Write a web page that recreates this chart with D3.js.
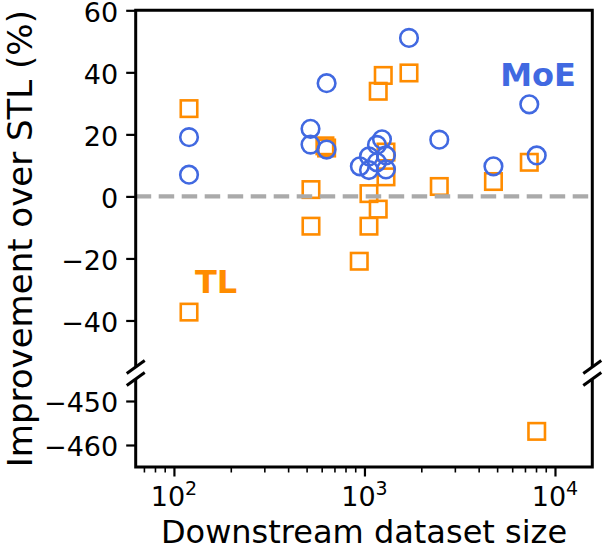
<!DOCTYPE html>
<html>
<head>
<meta charset="utf-8">
<script src="https://cdn.jsdelivr.net/npm/d3@7/dist/d3.min.js"></script>
<style>
  html, body { margin: 0; padding: 0; background: #fff; }
  svg { display: block; font-family: "DejaVu Sans", sans-serif; }
</style>
</head>
<body>
<svg id="chart" width="603" height="553"></svg>
<script>
// ---- Data ----
const moeSize = [120, 120, 521, 521, 633, 633, 1713, 2470, 4753, 7330, 8020,
                 1236, 1163, 1056, 946, 1056, 1297, 1297, 1163];
const moeImprovement = [19.1, 7.0, 21.8, 16.7, 36.5, 15.1, 51.1, 18.3, 9.7, 29.7, 13.2,
                        18.4, 16.6, 12.9, 9.7, 8.5, 13.2, 8.7, 11.0];

const tlSize = [120, 120, 524, 524, 633, 620, 939, 1056, 1056, 1181, 1181, 1255,
                1297, 1297, 1713, 2470, 4753, 7330, 8020];
const tlImprovement = [28.3, -37.3, 2.2, -9.6, 15.6, 16.3, -20.9, 0.9, -9.6, -4.1, 33.9, 39.0,
                       14.3, 6.3, 39.8, 3.2, 4.8, 11.0, -456.9];

const topTicks = [-40, -20, 0, 20, 40, 60];
const bottomTicks = [-460, -450];
const xMajorTicks = [100, 1000, 10000];
const xTickExponents = ["2", "3", "4"];

const xLabel = "Downstream dataset size";
const yLabel = "Improvement over STL (%)";
const moeLabel = "MoE";
const tlLabel = "TL";

// ---- Layout ----
const svg = d3.select("#chart");
const L = 135.7, R = 592.3;
const topY0 = 10.3, topY1 = 367;     // top panel pixel range
const botY0 = 379, botY1 = 467;      // bottom panel pixel range
const blue = "#4169E1", orange = "#FF8C00";

const x = d3.scaleLog().domain([63, 15700]).range([L, R]);
const yTop = d3.scaleLinear().domain([-55, 60]).range([topY1, topY0]);
const yBot = d3.scaleLinear().domain([-465, -445]).range([botY1, botY0]);

const inTop = v => v >= -55 && v <= 60;
const yOf = v => inTop(v) ? yTop(v) : yBot(v);

// clip paths per panel
const defs = svg.append("defs");
defs.append("clipPath").attr("id", "clipTop").append("rect")
  .attr("x", L).attr("y", topY0).attr("width", R - L).attr("height", topY1 - topY0);
defs.append("clipPath").attr("id", "clipBot").append("rect")
  .attr("x", L).attr("y", botY0).attr("width", R - L).attr("height", botY1 - botY0);

const gTop = svg.append("g").attr("clip-path", "url(#clipTop)");
const gBot = svg.append("g").attr("clip-path", "url(#clipBot)");

// TL squares
const sq = 16.5;
const tlData = tlSize.map((s, i) => ({ s, v: tlImprovement[i] }));
[[gTop, tlData.filter(d => inTop(d.v))], [gBot, tlData.filter(d => !inTop(d.v))]].forEach(([g, data]) => {
  g.selectAll(null).data(data).enter().append("rect")
    .attr("x", d => x(d.s) - sq / 2)
    .attr("y", d => yOf(d.v) - sq / 2)
    .attr("width", sq).attr("height", sq)
    .attr("fill", "none").attr("stroke", orange).attr("stroke-width", 2.6);
});

// MoE circles
const moeData = moeSize.map((s, i) => ({ s, v: moeImprovement[i] }));
gTop.selectAll(null).data(moeData.filter(d => inTop(d.v))).enter().append("circle")
  .attr("cx", d => x(d.s)).attr("cy", d => yOf(d.v)).attr("r", 8.8)
  .attr("fill", "none").attr("stroke", blue).attr("stroke-width", 2.6);

// zero dashed line
svg.append("line")
  .attr("x1", L).attr("x2", R).attr("y1", yTop(0)).attr("y2", yTop(0))
  .attr("stroke", "#aaaaaa").attr("stroke-width", 4.2)
  .attr("stroke-dasharray", "15.5,7.5");

// ---- Spines ----
const spine = { stroke: "#000", "stroke-width": 3, fill: "none" };
function path(d) { const p = svg.append("path").attr("d", d); Object.entries(spine).forEach(([k, v]) => p.attr(k, v)); return p; }
path(`M${L},${topY1}V${topY0}H${R}V${topY1}`);
path(`M${L},${botY0}V${botY1}H${R}V${botY0}`);

// break marks
[[L, topY1], [L, botY0], [R, topY1], [R, botY0]].forEach(([cx, cy]) => {
  svg.append("line")
    .attr("x1", cx - 9).attr("y1", cy + 6.5).attr("x2", cx + 9).attr("y2", cy - 6.5)
    .attr("stroke", "#000").attr("stroke-width", 3);
});

// ---- Y axes ----
const tickFont = 27;
function yAxis(scale, ticks) {
  const g = svg.append("g").attr("transform", `translate(${L},0)`)
    .call(d3.axisLeft(scale).tickValues(ticks).tickSize(9.5).tickPadding(8)
      .tickFormat(d => d3.format("d")(d).replace("-", "\u2212")));
  g.select(".domain").remove();
  g.selectAll(".tick line").attr("stroke", "#000").attr("stroke-width", 2.2);
  g.selectAll(".tick text").attr("font-size", tickFont).attr("fill", "#000")
    .attr("font-family", "DejaVu Sans").attr("dy", "0.4em");
}
yAxis(yTop, topTicks);
yAxis(yBot, bottomTicks);

// ---- X axis (bottom panel) ----
const xg = svg.append("g").attr("transform", `translate(0,${botY1})`)
  .call(d3.axisBottom(x).tickValues(xMajorTicks).tickSize(9.5).tickFormat(""));
xg.select(".domain").remove();
xg.selectAll(".tick line").attr("stroke", "#000").attr("stroke-width", 2.2);

// minor ticks
const minor = [];
[10, 100, 1000, 10000].forEach(base => {
  for (let k = 2; k <= 9; k++) {
    const v = base * k;
    if (v > x.domain()[0] && v < x.domain()[1]) minor.push(v);
  }
});
svg.append("g").selectAll("line").data(minor).enter().append("line")
  .attr("x1", d => x(d)).attr("x2", d => x(d))
  .attr("y1", botY1).attr("y2", botY1 + 5.5)
  .attr("stroke", "#000").attr("stroke-width", 1.6);

// major tick labels 10^n
xMajorTicks.forEach((v, i) => {
  const t = svg.append("text")
    .attr("x", x(v)).attr("y", 506)
    .attr("text-anchor", "middle")
    .attr("font-size", tickFont).attr("fill", "#000");
  t.append("tspan").text("10");
  t.append("tspan").text(xTickExponents[i]).attr("font-size", 19).attr("dy", -11);
});

// ---- Labels ----
svg.append("text").attr("x", (L + R) / 2).attr("y", 543)
  .attr("text-anchor", "middle").attr("font-size", 32).attr("fill", "#000")
  .text(xLabel);

svg.append("text")
  .attr("transform", `translate(32,${(topY0 + botY1) / 2}) rotate(-90)`)
  .attr("text-anchor", "middle").attr("font-size", 34).attr("fill", "#000")
  .text(yLabel);

svg.append("text").attr("x", 538).attr("y", 86)
  .attr("text-anchor", "middle").attr("font-size", 32).attr("font-weight", "bold")
  .attr("fill", blue).text(moeLabel);

svg.append("text").attr("x", 216).attr("y", 293)
  .attr("text-anchor", "middle").attr("font-size", 32).attr("font-weight", "bold")
  .attr("fill", orange).text(tlLabel);
</script>
</body>
</html>
